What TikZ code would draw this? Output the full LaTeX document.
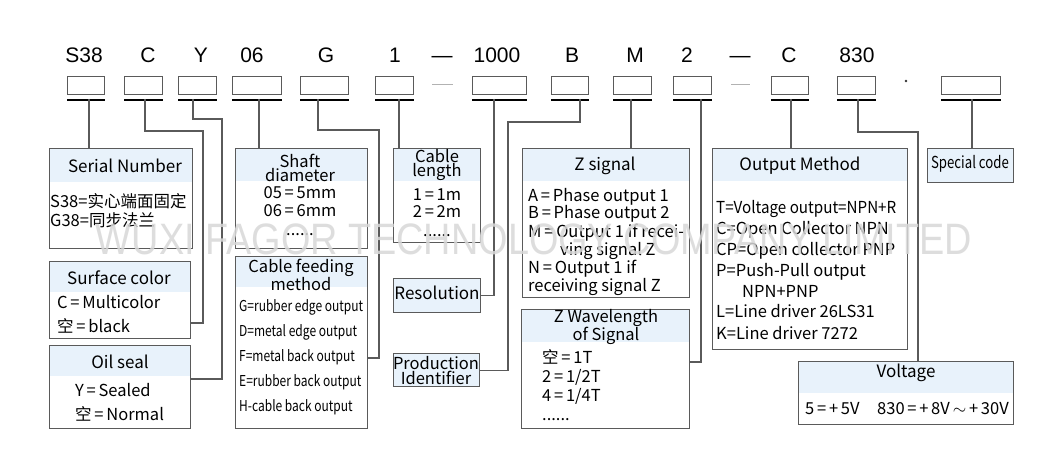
\documentclass[tikz,border=0pt]{standalone}
\usepackage{fontspec}
\usepackage{graphicx}
\setmainfont{Liberation Sans}
\newfontfamily\bx{Noto Sans CJK SC}
\newfontfamily\bxc[FakeStretch=0.8]{Noto Sans CJK SC}
\newfontfamily\bxm[FakeStretch=0.92]{Noto Sans CJK SC}
\newfontfamily\topf{Liberation Sans}
\usetikzlibrary{calc,backgrounds}
\definecolor{hdr}{HTML}{E8F2FB}
\definecolor{bord}{HTML}{5A5A5A}
\definecolor{wm}{HTML}{D8D8D8}
\newcommand{\eqs}{\,=\,}
\tikzset{
  codebox/.style={draw=bord, line width=1.1pt, fill=white, inner sep=0, minimum height=18, anchor=north west},
  codelab/.style={font=\topf\fontsize{21}{21}\selectfont, inner sep=0, text height=15, text depth=0},
  bigbox/.style={draw=bord, line width=1.1pt, inner sep=0, anchor=north west},
  bar/.style={line width=2.6pt, black},
  conn/.style={draw=bord, line width=1.1pt},
  title/.style={font=\bx\fontsize{17}{15}\selectfont, inner sep=0, align=center, text height=12, text depth=4},
  titletwo/.style={font=\bx\fontsize{16.5}{13}\selectfont, inner sep=0, align=center},
  item/.style={font=\bx\fontsize{16.5}{17}\selectfont, inner sep=0, anchor=west, text height=12, text depth=4},
  citem/.style={font=\bxc\fontsize{15}{17}\selectfont, inner sep=0, anchor=west, text height=11.5, text depth=3.5},
  hdrfill/.style={fill=hdr},
}
\begin{document}
\begin{tikzpicture}[x=1pt,y=-1pt]
\useasboundingbox (0,0) rectangle (1060,476);

% ---- top code labels ----
\node[codelab] (l1) at (84,55) {S38};
\node[codelab] (l2) at (148,55) {C};
\node[codelab] (l3) at (201,55) {Y};
\node[codelab] (l4) at (252,55) {06};
\node[codelab] (l5) at (326,55) {G};
\node[codelab] (l6) at (395,55) {1};
\node[codelab] (l7) at (442,55) {—};
\node[codelab] (l8) at (497,55) {1000};
\node[codelab] (l9) at (572,55) {B};
\node[codelab] (l10) at (635,55) {M};
\node[codelab] (l11) at (687,55) {2};
\node[codelab] (l12) at (740,55) {—};
\node[codelab] (l13) at (789,55) {C};
\node[codelab] (l14) at (857,55) {830};
\node[circle, fill=black!80, inner sep=0, minimum size=2.6] (dot) at (906,81) {};

% ---- small code boxes ----
\node[codebox, minimum width=37] (c1) at (67,76) {};
\node[codebox, minimum width=38] (c2) at (124,76) {};
\node[codebox, minimum width=38] (c3) at (178,76) {};
\node[codebox, minimum width=49] (c4) at (232,76) {};
\node[codebox, minimum width=48] (c5) at (300,76) {};
\node[codebox, minimum width=38] (c6) at (375,76) {};
\node[codebox, minimum width=54] (c7) at (472,76) {};
\node[codebox, minimum width=37] (c8) at (551,76) {};
\node[codebox, minimum width=38] (c9) at (613,76) {};
\node[codebox, minimum width=38] (c10) at (673,76) {};
\node[codebox, minimum width=37] (c11) at (771,76) {};
\node[codebox, minimum width=38] (c12) at (837,76) {};
\node[codebox, minimum width=59] (c13) at (941,76) {};
\coordinate (d1a) at (432,85); \coordinate (d1b) at (453,85);
\coordinate (d2a) at (731,85); \coordinate (d2b) at (750,85);
\draw[line width=1pt, gray!60] (d1a) -- (d1b);
\draw[line width=1pt, gray!60] (d2a) -- (d2b);

% bars under code boxes
\foreach \c in {c1,c2,c3,c4,c5,c6,c7,c8,c9,c10,c11,c12,c13}
  \draw[bar] ($(\c.south west)+(0,5)$) -- ($(\c.south east)+(0,5)$);

% connector start points on bars
\coordinate (t1) at (89,99);
\coordinate (t2) at (145,99);
\coordinate (t3) at (193,99);
\coordinate (t4) at (259,99);
\coordinate (t5) at (318,99);
\coordinate (t6) at (399,99);
\coordinate (t7) at (494,99);
\coordinate (t8) at (580,99);
\coordinate (t9) at (631,99);
\coordinate (t10) at (701,99);
\coordinate (t11) at (791,99);
\coordinate (t12) at (858,99);
\coordinate (t13) at (972,99);
\coordinate (k12) at (918,132);

% ---- description boxes ----
\node[bigbox, minimum width=143, minimum height=100] (sn) at (49,148) {};
\node[bigbox, minimum width=141, minimum height=77] (sc) at (49,261) {};
\node[bigbox, minimum width=141, minimum height=83] (os) at (49,345) {};
\node[bigbox, minimum width=132, minimum height=100] (sd) at (235,148) {};
\node[bigbox, minimum width=132, minimum height=172] (cf) at (235,256) {};
\node[bigbox, minimum width=87, minimum height=94] (cl) at (393,148) {};
\node[bigbox, minimum width=87, minimum height=34, fill=hdr] (res) at (393,278) {};
\node[bigbox, minimum width=86, minimum height=33, fill=hdr] (pi) at (393,353) {};
\node[bigbox, minimum width=167, minimum height=149] (zs) at (522,148) {};
\node[bigbox, minimum width=168, minimum height=119] (zw) at (521,309) {};
\node[bigbox, minimum width=195, minimum height=201] (om) at (712,148) {};
\node[bigbox, minimum width=86, minimum height=34, fill=hdr] (spc) at (927,148) {};
\node[bigbox, minimum width=215, minimum height=63] (vo) at (798,361) {};

\begin{scope}[on background layer]
  \fill[white] (0,0) rectangle (1060,476);
  \fill[hdrfill] (sn.north west) rectangle ($(sn.north east)+(0,34)$);
  \fill[hdrfill] (sc.north west) rectangle ($(sc.north east)+(0,31)$);
  \fill[hdrfill] (os.north west) rectangle ($(os.north east)+(0,31)$);
  \fill[hdrfill] (sd.north west) rectangle ($(sd.north east)+(0,33)$);
  \fill[hdrfill] (cf.north west) rectangle ($(cf.north east)+(0,31)$);
  \fill[hdrfill] (cl.north west) rectangle ($(cl.north east)+(0,33)$);
  \fill[hdrfill] (zs.north west) rectangle ($(zs.north east)+(0,33)$);
  \fill[hdrfill] (zw.north west) rectangle ($(zw.north east)+(0,33)$);
  \fill[hdrfill] (om.north west) rectangle ($(om.north east)+(0,33)$);
  \fill[hdrfill] (vo.north west) rectangle ($(vo.north east)+(0,32)$);
\end{scope}

% ---- connectors ----
\draw[conn] (t1) -- (t1 |- sn.north);
\draw[conn] (t2) |- (203,131) |- ($(sc.north east)+(0,62)$);
\draw[conn] (t3) |- (222,119) |- ($(os.north east)+(0,34)$);
\draw[conn] (t4) -- (t4 |- sd.north);
\draw[conn] (t5) |- (379,130) |- ($(cf.north east)+(0,102)$);
\draw[conn] (t6) -- (t6 |- cl.north);
\draw[conn] (t7) |- (res.east);
\draw[conn] (t8) |- (508,122) |- (pi.east);
\draw[conn] (t9) -- (t9 |- zs.north);
\draw[conn] (t10) |- ($(zw.north east)+(0,53)$);
\draw[conn] (t11) -- (t11 |- om.north);
\draw[conn] (t12) |- (k12) -- (k12 |- vo.north);
\draw[conn] (t13) -- (t13 |- spc.north);

% ---- box texts ----
\node[title] (snt) at (125,168) {Serial Number};
\node[item] (sn1) at (50,203) {S38=实心端面固定};
\node[item] (sn2) at (50,222) {G38=同步法兰};

\node[title] (sct) at (119,280) {Surface color};
\node[item] (sc1) at (57,304) {C\eqs Multicolor};
\node[item] (sc2) at (57,328) {空\eqs black};

\node[title] (ost) at (120,364) {Oil seal};
\node[item] (os1) at (75,392) {Y\eqs Sealed};
\node[item] (os2) at (75,416) {空\eqs Normal};

\node[titletwo] (sdt) at (300,168) {Shaft\\diameter};
\node[item, anchor=center] (sd1) at (300,194) {05\eqs 5mm};
\node[item, anchor=center] (sd2) at (300,212) {06\eqs 6mm};
\node[item, anchor=center] (sd3) at (300,231) {......};

\node[titletwo] (cft) at (301,275) {Cable feeding\\method};
\node[citem] (cf1) at (239,307) {G=rubber edge output};
\node[citem] (cf2) at (239,332) {D=metal edge output};
\node[citem] (cf3) at (239,357) {F=metal back output};
\node[citem] (cf4) at (239,382) {E=rubber back output};
\node[citem] (cf5) at (239,407) {H-cable back output};

\node[titletwo] (clt) at (437,165) {Cable\\length};
\node[item, anchor=center] (cl1) at (437,196) {1\eqs 1m};
\node[item, anchor=center] (cl2) at (437,213) {2\eqs 2m};
\node[item, anchor=center] (cl3) at (437,232) {......};

\node[title] (rest) at (437,295) {Resolution};
\node[titletwo, font=\bx\fontsize{16.5}{15}\selectfont] (pit) at (436,371) {Production\\Identifier};

\node[title] (zst) at (605,167) {Z signal};
\node[item] (zs1) at (528,197) {A\eqs Phase output 1};
\node[item] (zs2) at (528,214) {B\eqs Phase output 2};
\node[item] (zs3) at (528,233) {M\eqs Output 1 if recei-};
\node[item] (zs4) at (560,251) {ving signal Z};
\node[item] (zs5) at (528,269) {N\eqs Output 1 if};
\node[item] (zs6) at (528,287) {receiving signal Z};

\node[titletwo] (zwt) at (606,327) {Z Wavelength\\of Signal};
\node[item] (zw1) at (542,359) {空\eqs 1T};
\node[item] (zw2) at (542,378) {2\eqs 1/2T};
\node[item] (zw3) at (542,397) {4\eqs 1/4T};
\node[item] (zw4) at (542,416) {......};

\node[title] (omt) at (800,167) {Output Method};
\node[item, font=\bxm\fontsize{16.5}{17}\selectfont] (om1) at (716,209) {T=Voltage output=NPN+R};
\node[item] (om2) at (716,230) {C=Open Collector NPN};
\node[item] (om3) at (716,251) {CP=Open collector PNP};
\node[item] (om4) at (716,272) {P=Push-Pull output};
\node[item] (om5) at (742,293) {NPN+PNP};
\node[item] (om6) at (716,313) {L=Line driver 26LS31};
\node[item] (om7) at (716,335) {K=Line driver 7272};

\node[title, font=\bxc\fontsize{16.5}{15}\selectfont] (spt) at (970,164) {Special code};

\node[title] (vot) at (906,373) {Voltage};
\node[item] (vo1) at (805,410) {5\eqs +\,5V};
\node[item] (vo2) at (877,410) {830\eqs +\,8V$\,\sim\,$+\,30V};

% ---- watermark ----
\node[font=\topf\fontsize{44}{44}\selectfont, text=wm, inner sep=0, opacity=0.85] (wmk) at (534,239) {\scalebox{0.86}[1]{WUXI FAGOR TECHNOLOGY COMPANY LIMITED}};
\end{tikzpicture}
\end{document}
